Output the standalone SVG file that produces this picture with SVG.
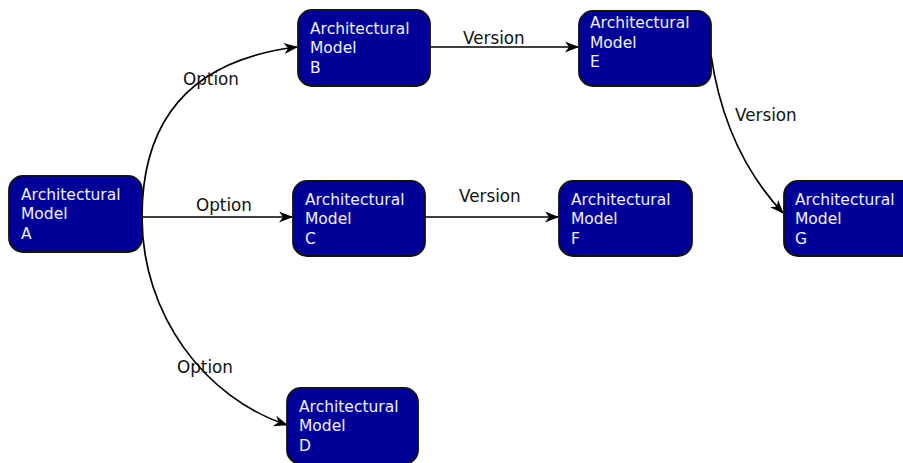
<svg xmlns="http://www.w3.org/2000/svg" width="903" height="463" viewBox="0 0 903 463">
<style>
.box{fill:#000099;stroke:#111;stroke-width:1.8}
.nt{font-family:"DejaVu Sans",sans-serif;font-size:15.5px;fill:#f0f0ff}
.lb{font-family:"DejaVu Sans",sans-serif;font-size:16.8px;fill:#111}
.cn{fill:none;stroke:#000;stroke-width:1.7}
</style>
<defs>
<marker id="ah" viewBox="0 0 14 11" refX="13" refY="5.5" markerWidth="14" markerHeight="11" markerUnits="userSpaceOnUse" orient="auto">
<path d="M0,0 L14,5.5 L0,11 L4,5.5 Z" fill="#000"/>
</marker>
</defs>
<rect width="903" height="463" fill="#fff"/>
<g id="connectors">
<path class="cn" d="M142,217 C142,120 190,60 297,47" marker-end="url(#ah)"/>
<path class="cn" d="M142,217 L292,217" marker-end="url(#ah)"/>
<path class="cn" d="M142,217 C142,315 205,398 287,425" marker-end="url(#ah)"/>
<path class="cn" d="M430,47 L578,47" marker-end="url(#ah)"/>
<path class="cn" d="M425,217 L558,217" marker-end="url(#ah)"/>
<path class="cn" d="M711,55 C722,130 752,180 783,213" marker-end="url(#ah)"/>
<text class="lb" x="183" y="85">Option</text>
<text class="lb" x="196" y="211">Option</text>
<text class="lb" x="177" y="373">Option</text>
<text class="lb" x="463" y="44">Version</text>
<text class="lb" x="459" y="202">Version</text>
<text class="lb" x="735" y="121">Version</text>
</g>
<g id="nodeA"><rect class="box" x="9" y="176" width="133" height="76" rx="14"/>
<text class="nt" x="21" y="199.5">Architectural</text><text class="nt" x="21" y="219">Model</text><text class="nt" x="21" y="238.5">A</text></g>
<g id="nodeB"><rect class="box" x="298" y="10" width="132" height="76" rx="14"/>
<text class="nt" x="310" y="33.5">Architectural</text><text class="nt" x="310" y="53">Model</text><text class="nt" x="310" y="72.5">B</text></g>
<g id="nodeC"><rect class="box" x="293" y="181" width="132" height="75" rx="14"/>
<text class="nt" x="305" y="204.5">Architectural</text><text class="nt" x="305" y="224">Model</text><text class="nt" x="305" y="243.5">C</text></g>
<g id="nodeD"><rect class="box" x="287" y="388" width="131" height="76" rx="14"/>
<text class="nt" x="299" y="411.5">Architectural</text><text class="nt" x="299" y="431">Model</text><text class="nt" x="299" y="450.5">D</text></g>
<g id="nodeE"><rect class="box" x="579" y="11" width="132" height="75" rx="14"/>
<text class="nt" x="590" y="28">Architectural</text><text class="nt" x="590" y="47.5">Model</text><text class="nt" x="590" y="67">E</text></g>
<g id="nodeF"><rect class="box" x="559" y="181" width="133" height="75" rx="14"/>
<text class="nt" x="571" y="204.5">Architectural</text><text class="nt" x="571" y="224">Model</text><text class="nt" x="571" y="243.5">F</text></g>
<g id="nodeG"><rect class="box" x="784" y="181" width="133" height="75" rx="14"/>
<text class="nt" x="795" y="204.5">Architectural</text><text class="nt" x="795" y="224">Model</text><text class="nt" x="795" y="243.5">G</text></g>
</svg>
